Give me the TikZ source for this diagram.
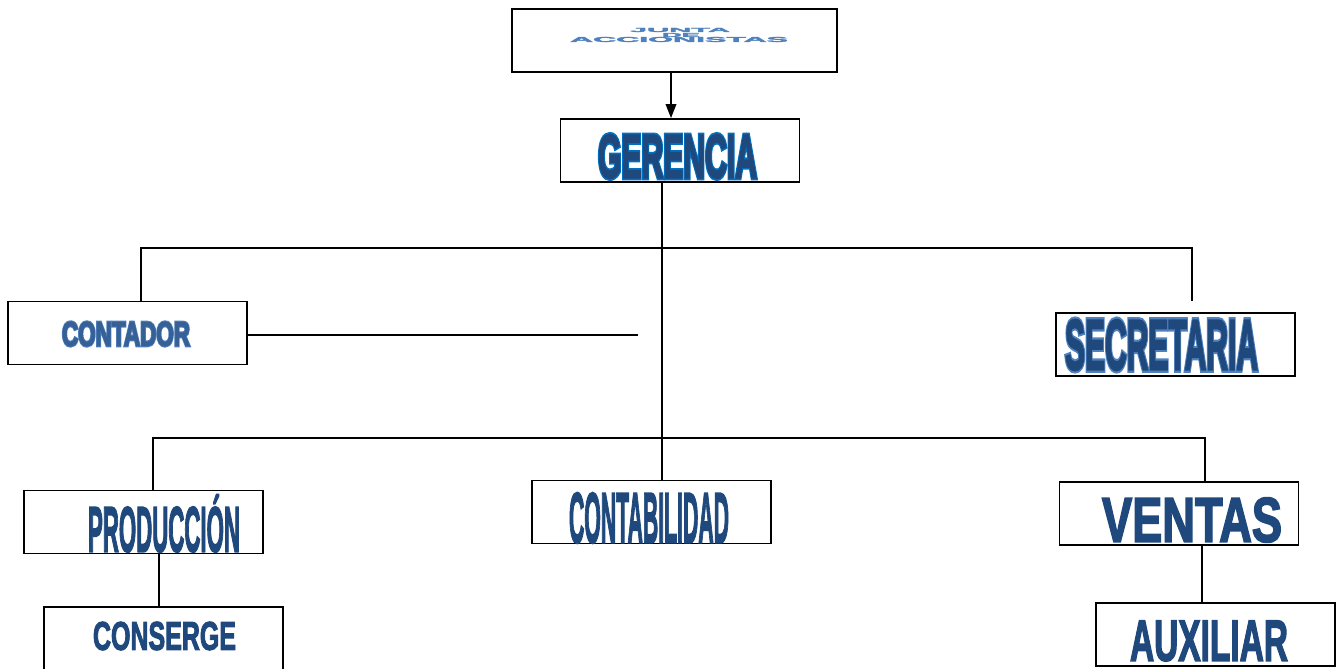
\documentclass[tikz,border=0pt]{standalone}
\usepackage{fontspec}
\setmainfont{Liberation Sans}
\newfontfamily\lblfont{Liberation Sans Bold}[FakeBold=3]
\newfontfamily\glowfont{Liberation Sans Bold}[FakeBold=9]
\usetikzlibrary{arrows.meta}
\usetikzlibrary{positioning}

\definecolor{darkblue}{RGB}{31,73,125}
\definecolor{midblue}{RGB}{55,96,150}
\definecolor{glowblue}{RGB}{79,129,189}
\definecolor{brightblue}{RGB}{0,112,192}

\newlength\px
\setlength\px{0.02cm}
\newcommand\lbl[3]{\resizebox{#1\px}{#2\px}{#3}}

\tikzset{
  box/.style={draw, line width=1pt, minimum width=4.78cm, minimum height=1.26cm, inner sep=0pt},
  txt/.style={inner sep=0pt, text=darkblue, font=\lblfont},
  glow/.style={inner sep=0pt, font=\glowfont},
  link/.style={line width=1pt}
}

\begin{document}
\begin{tikzpicture}[x=0.02cm,y=-0.02cm]
\useasboundingbox (0,0) rectangle (1342,669);

% boxes
\node[box,minimum width=6.5cm] (junta) at (674.5,40.5) {};
\node[box] (gerencia) at (680,150.5) {};
\node[box] (contador) at (127.5,333) {};
\node[box] (secretaria) at (1175.5,344.5) {};
\node[box] (produccion) at (143.5,522) {};
\node[box] (contabilidad) at (651.5,512) {};
\node[box] (ventas) at (1179,513.5) {};
\node[box] (conserge) at (163.5,638.5) {};
\node[box] (auxiliar) at (1215.5,634.5) {};

% texts
\node[txt,text=glowblue] (junta-a) at (680,30) {\lbl{100}{4}{JUNTA}};
\node[txt,text=glowblue] (junta-b) at (681,35) {\lbl{38}{4}{DE}};
\node[txt,text=glowblue] (junta-c) at (679,39.5) {\lbl{218}{5}{ACCIONISTAS}};

\node[glow,text=brightblue] (gerencia-g) at (677.5,156.5) {\lbl{159}{43}{GERENCIA}};
\node[txt] (gerencia-t) at (677.5,156.5) {\lbl{159}{43}{GERENCIA}};
\node[glow,text=glowblue] (contador-g) at (126,334) {\lbl{128}{24}{CONTADOR}};
\node[txt,text=midblue] (contador-t) at (126,334) {\lbl{128}{24}{CONTADOR}};
\node[glow,text=glowblue] (secretaria-g) at (1161.5,345) {\lbl{193}{50}{SECRETARIA}};
\node[txt] (secretaria-t) at (1161.5,345) {\lbl{193}{50}{SECRETARIA}};
\node[txt] (produccion-t) at (164,523.5) {\lbl{152}{57}{PRODUCCIÓN}};
\node[txt] (contabilidad-t) at (649,518) {\lbl{160}{50}{CONTABILIDAD}};
\node[txt] (ventas-t) at (1192,520) {\lbl{180}{44}{VENTAS}};
\node[txt] (conserge-t) at (164.5,636) {\lbl{143}{28}{CONSERGE}};
\node[txt] (auxiliar-t) at (1209,641) {\lbl{158}{40}{AUXILIAR}};

% connectors
\coordinate (trunk) at (662,300);
\coordinate (busA-l) at (141,248);
\coordinate (busA-r) at (1192,248);
\coordinate (secend) at (1192,301);
\coordinate (contend) at (638,335);
\coordinate (busB-l) at (153,438);
\coordinate (busB-r) at (1205,438);
\coordinate (prodlink) at (159,580);
\coordinate (ventlink) at (1202,575);

\draw[link,-{Triangle[length=8pt,width=6pt]}] (junta.south -| 671,0) -- (gerencia.north -| 671,0);
\draw[link] (trunk |- gerencia.south) -- (trunk |- contabilidad.north);
\draw[link] (busA-l |- contador.north) -- (busA-l) -- (busA-r) -- (secend);
\draw[link] (contador.east |- contend) -- (contend);
\draw[link] (busB-l |- produccion.north) -- (busB-l) -- (busB-r) -- (busB-r |- ventas.north);
\draw[link] (prodlink |- produccion.south) -- (prodlink |- conserge.north);
\draw[link] (ventlink |- ventas.south) -- (ventlink |- auxiliar.north);

\end{tikzpicture}
\end{document}
